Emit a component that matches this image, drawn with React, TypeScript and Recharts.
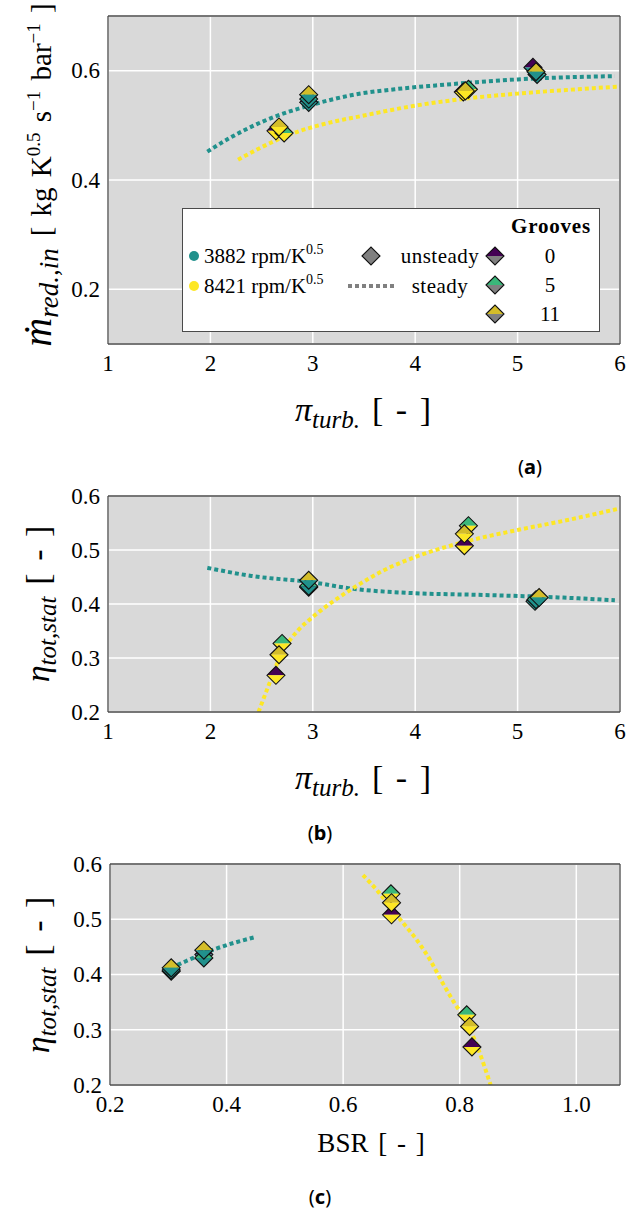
import React from "react"
import { ComposedChart, Line, Scatter, XAxis, YAxis, CartesianGrid } from "recharts"

type Pt = { x: number; y: number; g?: number }

const TEAL = "#21918c"
const YELLOW = "#fde725"
const GRAY = "#808080"
const FRAME = "#4a4a4a"
const BG = "#d9d9d9"
const SERIF = "Liberation Serif"

const grooves = [0, 5, 11]
const grooveColors: Record<number, string> = { 0: "#440154", 5: "#3bb77a", 11: "#d4bd2a" }

// (a) reduced mass flow over turbine pressure ratio
const massUnsteady3882: Pt[] = [
  { x: 2.96, y: 0.542, g: 0 }, { x: 2.96, y: 0.548, g: 5 }, { x: 2.96, y: 0.556, g: 11 },
  { x: 5.15, y: 0.606, g: 0 }, { x: 5.19, y: 0.593, g: 5 }, { x: 5.18, y: 0.598, g: 11 },
]
const massUnsteady8421: Pt[] = [
  { x: 2.64, y: 0.49, g: 0 }, { x: 2.72, y: 0.486, g: 5 }, { x: 2.67, y: 0.497, g: 11 },
  { x: 4.47, y: 0.561, g: 0 }, { x: 4.52, y: 0.566, g: 5 }, { x: 4.49, y: 0.563, g: 11 },
]
const massSteady3882: Pt[] = [
  { x: 1.97, y: 0.452 }, { x: 2.2, y: 0.478 }, { x: 2.5, y: 0.506 }, { x: 2.8, y: 0.527 },
  { x: 3.0, y: 0.538 }, { x: 3.4, y: 0.556 }, { x: 3.8, y: 0.566 }, { x: 4.2, y: 0.573 },
  { x: 4.6, y: 0.579 }, { x: 5.0, y: 0.584 }, { x: 5.5, y: 0.588 }, { x: 5.95, y: 0.59 },
]
const massSteady8421: Pt[] = [
  { x: 2.27, y: 0.437 }, { x: 2.5, y: 0.46 }, { x: 2.8, y: 0.485 }, { x: 3.1, y: 0.502 },
  { x: 3.5, y: 0.518 }, { x: 4.0, y: 0.536 }, { x: 4.5, y: 0.549 }, { x: 5.0, y: 0.558 },
  { x: 5.5, y: 0.565 }, { x: 6.0, y: 0.571 },
]

// (b) total-static efficiency over turbine pressure ratio
const effUnsteady3882: Pt[] = [
  { x: 2.96, y: 0.431, g: 0 }, { x: 2.96, y: 0.433, g: 5 }, { x: 2.96, y: 0.444, g: 11 },
  { x: 5.17, y: 0.405, g: 0 }, { x: 5.18, y: 0.408, g: 5 }, { x: 5.21, y: 0.412, g: 11 },
]
const effUnsteady8421: Pt[] = [
  { x: 2.64, y: 0.268, g: 0 }, { x: 2.7, y: 0.327, g: 5 }, { x: 2.67, y: 0.306, g: 11 },
  { x: 4.48, y: 0.508, g: 0 }, { x: 4.52, y: 0.545, g: 5 }, { x: 4.48, y: 0.53, g: 11 },
]
const effSteady3882: Pt[] = [
  { x: 1.97, y: 0.467 }, { x: 2.4, y: 0.452 }, { x: 3.0, y: 0.44 }, { x: 3.4, y: 0.428 },
  { x: 4.0, y: 0.42 }, { x: 4.6, y: 0.417 }, { x: 5.3, y: 0.413 }, { x: 5.95, y: 0.407 },
]
const effSteady8421: Pt[] = [
  { x: 2.47, y: 0.2 }, { x: 2.55, y: 0.24 }, { x: 2.7, y: 0.31 }, { x: 2.85, y: 0.35 },
  { x: 3.0, y: 0.376 }, { x: 3.2, y: 0.405 }, { x: 3.4, y: 0.43 }, { x: 3.7, y: 0.463 },
  { x: 4.0, y: 0.487 }, { x: 4.5, y: 0.516 }, { x: 5.0, y: 0.537 }, { x: 5.5, y: 0.556 },
  { x: 6.0, y: 0.577 },
]

// (c) total-static efficiency over blade speed ratio
const bsrUnsteady3882: Pt[] = [
  { x: 0.305, y: 0.406, g: 0 }, { x: 0.305, y: 0.408, g: 5 }, { x: 0.305, y: 0.412, g: 11 },
  { x: 0.361, y: 0.436, g: 0 }, { x: 0.361, y: 0.43, g: 5 }, { x: 0.361, y: 0.444, g: 11 },
]
const bsrUnsteady8421: Pt[] = [
  { x: 0.683, y: 0.508, g: 0 }, { x: 0.682, y: 0.546, g: 5 }, { x: 0.683, y: 0.53, g: 11 },
  { x: 0.821, y: 0.269, g: 0 }, { x: 0.812, y: 0.327, g: 5 }, { x: 0.817, y: 0.306, g: 11 },
]
const bsrSteady3882: Pt[] = [
  { x: 0.305, y: 0.412 }, { x: 0.33, y: 0.424 }, { x: 0.38, y: 0.446 }, { x: 0.45, y: 0.468 },
]
const bsrSteady8421: Pt[] = [
  { x: 0.634, y: 0.58 }, { x: 0.66, y: 0.55 }, { x: 0.68, y: 0.523 }, { x: 0.7, y: 0.497 },
  { x: 0.726, y: 0.463 }, { x: 0.75, y: 0.425 }, { x: 0.77, y: 0.386 }, { x: 0.79, y: 0.35 },
  { x: 0.812, y: 0.314 }, { x: 0.83, y: 0.27 }, { x: 0.853, y: 0.2 },
]

const piTicks = [1, 2, 3, 4, 5, 6]
const massTicks = [0.2, 0.4, 0.6]
const effTicks = [0.2, 0.3, 0.4, 0.5, 0.6]
const bsrTicks = [0.2, 0.4, 0.6, 0.8, 1.0]

// minor tick marks (white, inside the frame)
const steps = (from: number, to: number, step: number) => {
  const out: number[] = []
  for (let v = from; v <= to + 1e-9; v += step) out.push(+v.toFixed(4))
  return out
}

function Diamond({ cx, cy, top, bottom, r = 9 }: { cx: number; cy: number; top: string; bottom: string; r?: number }) {
  return (
    <g>
      <path d={`M${cx - r},${cy} L${cx},${cy - r} L${cx + r},${cy} Z`} fill={top} />
      <path d={`M${cx - r},${cy} L${cx},${cy + r} L${cx + r},${cy} Z`} fill={bottom} />
      <path
        d={`M${cx - r},${cy} L${cx},${cy - r} L${cx + r},${cy} L${cx},${cy + r} Z`}
        fill="none"
        stroke="#111"
        strokeWidth={1.1}
      />
    </g>
  )
}

const serifTick = (fmt: (v: number) => string, dy: string) => (t: any) => (
  <text
    x={t.x}
    y={t.y}
    dy={dy}
    textAnchor={t.textAnchor}
    fill="#000"
    style={{ fontFamily: SERIF, fontSize: 23 }}
  >
    {fmt(t.payload.value)}
  </text>
)

interface PanelProps {
  top: number
  height: number
  plotTop: number
  plotBottom: number
  plotLeft: number
  xDomain: [number, number]
  yDomain: [number, number]
  xTicks: number[]
  yTicks: number[]
  xMinor: number[]
  yMinor: number[]
  xFmt: (v: number) => string
  steady3882: Pt[]
  steady8421: Pt[]
  unsteady3882: Pt[]
  unsteady8421: Pt[]
}

function Panel(p: PanelProps) {
  const xH = 30
  const yW = 50
  const margin = {
    top: p.plotTop - p.top,
    bottom: p.top + p.height - p.plotBottom - xH,
    left: p.plotLeft - yW,
    right: 7,
  }
  const minor = { stroke: "#fff", strokeWidth: 1.2 }
  const frame = { stroke: FRAME, strokeWidth: 1.3 }
  const dotted = { strokeWidth: 4, strokeDasharray: "4 3", dot: false, type: "monotone" as const, isAnimationActive: false }

  return (
    <div style={{ position: "absolute", left: 0, top: p.top }}>
      <ComposedChart width={627} height={p.height} margin={margin}>
        <CartesianGrid fill={BG} fillOpacity={1} stroke="#fff" strokeWidth={1.5} />
        <XAxis
          type="number"
          dataKey="x"
          domain={p.xDomain}
          allowDataOverflow
          ticks={p.xTicks}
          height={xH}
          tickLine={false}
          tickSize={0}
          tickMargin={10}
          axisLine={frame}
          tick={serifTick(p.xFmt, "0.75em")}
        />
        <YAxis
          type="number"
          dataKey="y"
          domain={p.yDomain}
          allowDataOverflow
          ticks={p.yTicks}
          width={yW}
          tickLine={false}
          tickSize={0}
          tickMargin={8}
          axisLine={frame}
          tick={serifTick((v) => v.toFixed(1), "0.34em")}
        />
        <XAxis xAxisId="mt" orientation="top" mirror type="number" domain={p.xDomain} allowDataOverflow
          ticks={p.xMinor} tick={false} tickSize={6} height={1} axisLine={frame} tickLine={minor} />
        <XAxis xAxisId="mb" orientation="bottom" mirror type="number" domain={p.xDomain} allowDataOverflow
          ticks={p.xMinor} tick={false} tickSize={6} height={1} axisLine={false} tickLine={minor} />
        <YAxis yAxisId="ml" orientation="left" mirror type="number" domain={p.yDomain} allowDataOverflow
          ticks={p.yMinor} tick={false} tickSize={6} width={1} axisLine={false} tickLine={minor} />
        <YAxis yAxisId="mr" orientation="right" mirror type="number" domain={p.yDomain} allowDataOverflow
          ticks={p.yMinor} tick={false} tickSize={6} width={1} axisLine={frame} tickLine={minor} />

        <Line data={p.steady3882} dataKey="y" stroke={TEAL} {...dotted} />
        <Line data={p.steady8421} dataKey="y" stroke={YELLOW} {...dotted} />

        {grooves.map((g) => (
          <Scatter
            key={`a${g}`}
            data={p.unsteady3882.filter((d) => d.g === g)}
            isAnimationActive={false}
            shape={(s: any) => <Diamond cx={s.cx} cy={s.cy} top={grooveColors[g]} bottom={TEAL} />}
          />
        ))}
        {grooves.map((g) => (
          <Scatter
            key={`b${g}`}
            data={p.unsteady8421.filter((d) => d.g === g)}
            isAnimationActive={false}
            shape={(s: any) => <Diamond cx={s.cx} cy={s.cy} top={grooveColors[g]} bottom={YELLOW} />}
          />
        ))}
      </ComposedChart>
    </div>
  )
}

const abs = (x: number, y: number, rot = false): React.CSSProperties => ({
  position: "absolute",
  left: x,
  top: y,
  transform: `translate(-50%, -50%)${rot ? " rotate(-90deg)" : ""}`,
  whiteSpace: "nowrap",
  fontFamily: SERIF,
  color: "#000",
  lineHeight: 1,
})

const it: React.CSSProperties = { fontStyle: "italic" }
const sub: React.CSSProperties = { fontStyle: "italic", fontSize: 25, position: "relative", top: 7 }
const sup: React.CSSProperties = { fontSize: 19, position: "relative", top: -11 }

function PiLabel({ x, y }: { x: number; y: number }) {
  return (
    <div style={{ ...abs(x, y), fontSize: 34, wordSpacing: 4 }}>
      <span style={it}>π</span>
      <span style={sub}>turb.</span>
      <span style={{ marginLeft: 12 }}>[ - ]</span>
    </div>
  )
}

function EtaLabel({ x, y }: { x: number; y: number }) {
  return (
    <div style={{ ...abs(x, y, true), fontSize: 34, wordSpacing: 4 }}>
      <span style={it}>η</span>
      <span style={sub}>tot,stat</span>
      <span style={{ marginLeft: 12 }}>[ - ]</span>
    </div>
  )
}

function PanelTag({ x, y, letter }: { x: number; y: number; letter: string }) {
  return (
    <div style={{ ...abs(x, y), fontFamily: "Noto Sans", fontSize: 20 }}>
      (<b>{letter}</b>)
    </div>
  )
}

function LegendDiamond({ top, bottom }: { top: string; bottom: string }) {
  return (
    <svg width={22} height={22} style={{ display: "block" }}>
      <Diamond cx={11} cy={11} top={top} bottom={bottom} r={9} />
    </svg>
  )
}

function LegendBox() {
  const row = (y: number): React.CSSProperties => ({ position: "absolute", top: y, transform: "translateY(-50%)", lineHeight: 1 })
  const supS: React.CSSProperties = { fontSize: 14, position: "relative", top: -9 }
  return (
    <div
      style={{
        position: "absolute",
        left: 182,
        top: 208,
        width: 418,
        height: 124,
        boxSizing: "border-box",
        background: "#fff",
        border: `1.5px solid ${FRAME}`,
        fontFamily: SERIF,
        fontSize: 21,
      }}
    >
      <div style={{ ...row(17), left: 368, transform: "translate(-50%,-50%)", fontWeight: "bold", letterSpacing: 0.8 }}>
        Grooves
      </div>

      <div style={{ ...row(47), left: 6, width: 10, height: 10, borderRadius: 5, background: TEAL }} />
      <div style={{ ...row(47), left: 21 }}>
        3882 rpm/K<span style={supS}>0.5</span>
      </div>
      <div style={{ ...row(77), left: 6, width: 10, height: 10, borderRadius: 5, background: YELLOW }} />
      <div style={{ ...row(77), left: 21 }}>
        8421 rpm/K<span style={supS}>0.5</span>
      </div>

      <div style={{ ...row(47), left: 177 }}>
        <LegendDiamond top={GRAY} bottom={GRAY} />
      </div>
      <div style={{ ...row(47), left: 257, transform: "translate(-50%,-50%)", letterSpacing: 0.5 }}>unsteady</div>
      <svg width={46} height={6} style={{ position: "absolute", left: 165, top: 74 }}>
        <line x1={0} y1={3} x2={46} y2={3} stroke={GRAY} strokeWidth={4} strokeDasharray="4 3" />
      </svg>
      <div style={{ ...row(77), left: 257, transform: "translate(-50%,-50%)", letterSpacing: 0.5 }}>steady</div>

      {grooves.map((g, i) => (
        <React.Fragment key={g}>
          <div style={{ ...row(47 + i * 29), left: 301 }}>
            <LegendDiamond top={grooveColors[g]} bottom={GRAY} />
          </div>
          <div style={{ ...row(47 + i * 29), left: 367, transform: "translate(-50%,-50%)" }}>{g}</div>
        </React.Fragment>
      ))}
    </div>
  )
}

export default function App() {
  return (
    <div style={{ position: "absolute", left: 0, top: 0, width: 627, height: 1213, background: "#fff", overflow: "hidden" }}>
      <Panel
        top={0}
        height={400}
        plotTop={16}
        plotBottom={344}
        plotLeft={108}
        xDomain={[1, 6]}
        yDomain={[0.1, 0.7]}
        xTicks={piTicks}
        yTicks={massTicks}
        xMinor={steps(1, 6, 0.2)}
        yMinor={steps(0.12, 0.68, 0.04)}
        xFmt={(v) => String(v)}
        steady3882={massSteady3882}
        steady8421={massSteady8421}
        unsteady3882={massUnsteady3882}
        unsteady8421={massUnsteady8421}
      />
      <Panel
        top={460}
        height={320}
        plotTop={496}
        plotBottom={712}
        plotLeft={108}
        xDomain={[1, 6]}
        yDomain={[0.2, 0.6]}
        xTicks={piTicks}
        yTicks={effTicks}
        xMinor={steps(1, 6, 0.2)}
        yMinor={steps(0.2, 0.6, 0.02)}
        xFmt={(v) => String(v)}
        steady3882={effSteady3882}
        steady8421={effSteady8421}
        unsteady3882={effUnsteady3882}
        unsteady8421={effUnsteady8421}
      />
      <Panel
        top={840}
        height={300}
        plotTop={864}
        plotBottom={1085}
        plotLeft={110}
        xDomain={[0.2, 1.075]}
        yDomain={[0.2, 0.6]}
        xTicks={bsrTicks}
        yTicks={effTicks}
        xMinor={steps(0.2, 1.072, 0.04)}
        yMinor={steps(0.2, 0.6, 0.02)}
        xFmt={(v) => v.toFixed(1)}
        steady3882={bsrSteady3882}
        steady8421={bsrSteady8421}
        unsteady3882={bsrUnsteady3882}
        unsteady8421={bsrUnsteady8421}
      />

      <LegendBox />

      {/* axis titles */}
      <div style={{ ...abs(38, 175, true), fontSize: 29, wordSpacing: 3 }}>
        <span style={{ ...it, fontSize: 40 }}>ṁ</span>
        <span style={{ ...sub, fontSize: 27 }}>red.,in</span>
        <span style={{ marginLeft: 12 }}>
          [ kg K<span style={sup}>0.5</span> s<span style={sup}>−1</span> bar<span style={sup}>−1</span> ]
        </span>
      </div>
      <PiLabel x={363} y={410} />
      <PanelTag x={530} y={467} letter="a" />

      <EtaLabel x={38} y={604} />
      <PiLabel x={363} y={778} />
      <PanelTag x={320} y={833} letter="b" />

      <EtaLabel x={38} y={975} />
      <div style={{ ...abs(371, 1143), fontSize: 27, wordSpacing: 3 }}>BSR [ - ]</div>
      <PanelTag x={320} y={1197} letter="c" />
    </div>
  )
}
